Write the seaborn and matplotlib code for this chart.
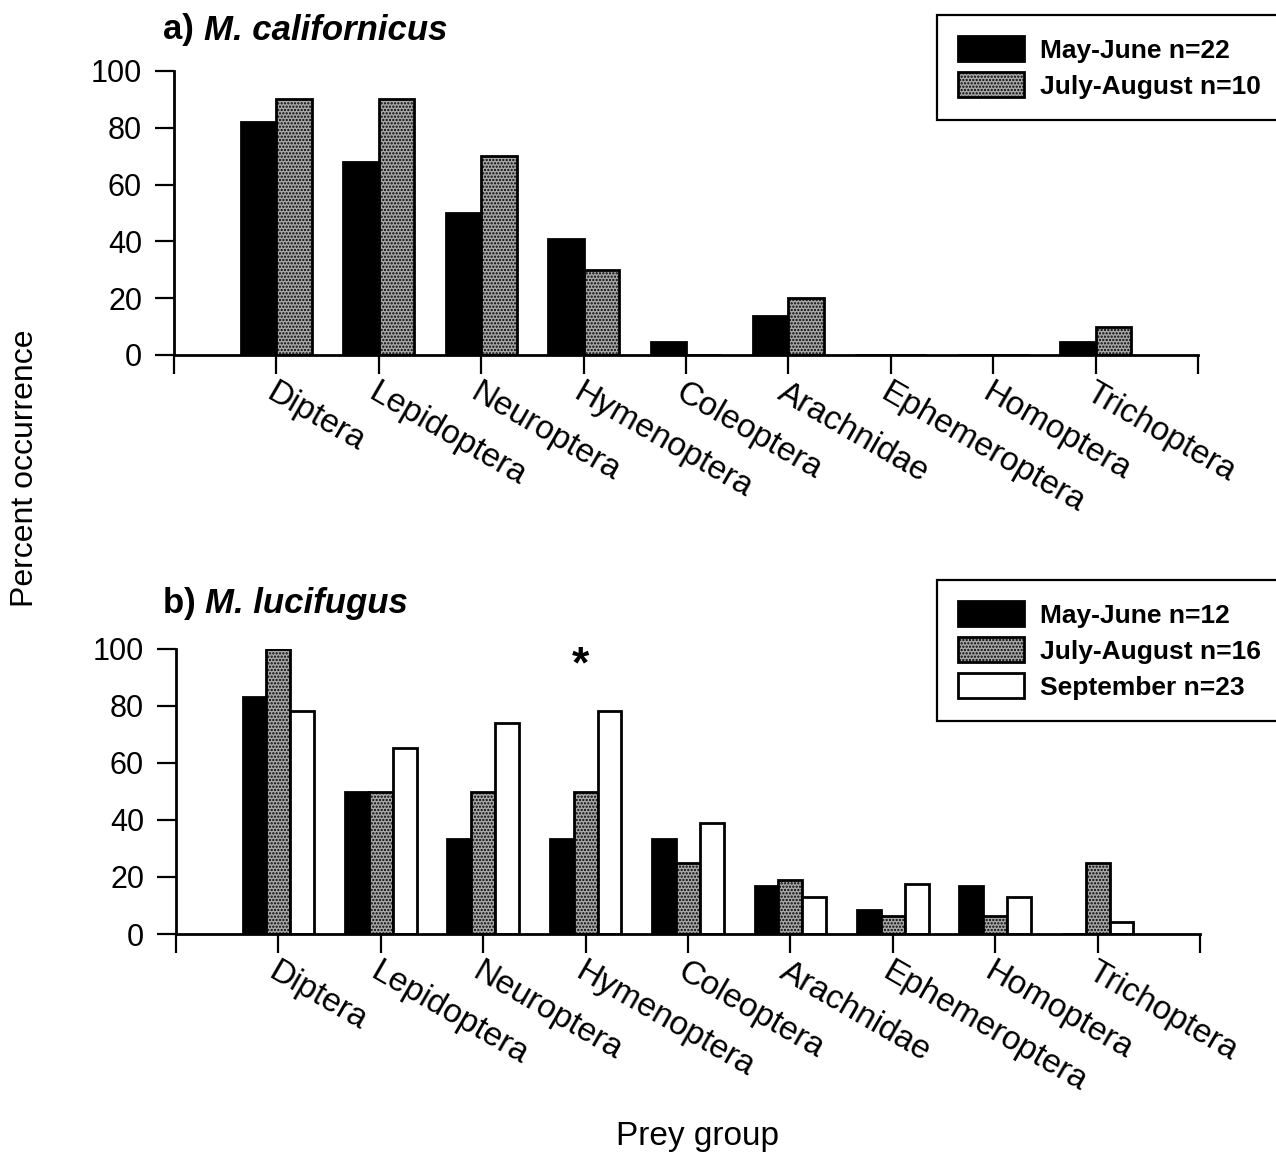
import matplotlib
matplotlib.use("Agg")
import matplotlib.pyplot as plt
import matplotlib.transforms as mtrans
from matplotlib.patches import Patch
import seaborn as sns
import pandas as pd

# ---------------- data ----------------
categories = ["Diptera", "Lepidoptera", "Neuroptera", "Hymenoptera", "Coleoptera",
              "Arachnidae", "Ephemeroptera", "Homoptera", "Trichoptera"]

# a) M. californicus
cal_may_june = [82, 68, 50, 41, 4.5, 13.6, 0, 0, 4.5]
cal_july_aug = [90, 90, 70, 30, 0, 20, 0, 0, 10]
cal_labels = ["May-June n=22", "July-August n=10"]

# b) M. lucifugus
luc_may_june = [83.3, 50, 33.3, 33.3, 33.3, 16.7, 8.3, 16.7, 0]
luc_july_aug = [100, 50, 50, 50, 25, 18.8, 6.3, 6.3, 25]
luc_september = [78.3, 65.2, 73.9, 78.3, 39.1, 13.0, 17.4, 13.0, 4.3]
luc_labels = ["May-June n=12", "July-August n=16", "September n=23"]

yticks = [0, 20, 40, 60, 80, 100]

# ---------------- style ----------------
sns.set_theme(style="white")
plt.rcParams["font.family"] = ["Liberation Sans", "DejaVu Sans"]
plt.rcParams["hatch.linewidth"] = 1.1
for k in ["text.color", "axes.labelcolor", "xtick.color", "ytick.color"]:
    plt.rcParams[k] = "black"

BLACK = "#000000"
STIP = "#a9a9a9"
WHITE = "#ffffff"
FS_TICK = 22
FS_CAT = 24

fig = plt.figure(figsize=(12.76, 11.57), dpi=100)
W, H = 1276, 1157


def axes_px(left, right, top, bottom):
    return fig.add_axes([left / W, 1 - bottom / H, (right - left) / W, (bottom - top) / H])


ax1 = axes_px(174, 1198, 71, 355)
ax2 = axes_px(176, 1200, 649, 934)


def make_df(series, labels):
    rows = []
    for vals, lab in zip(series, labels):
        for c, v in zip(categories, vals):
            rows.append({"group": c, "pct": v, "period": lab})
    return pd.DataFrame(rows)


def draw(ax, series, labels, colors, width):
    df = make_df(series, labels)
    sns.barplot(data=df, x="group", y="pct", hue="period", order=categories,
                hue_order=labels, palette=colors, width=width, edgecolor="black",
                linewidth=2, saturation=1, ax=ax, legend=False, errorbar=None)
    for p in ax.patches:
        fc = p.get_facecolor()
        if abs(fc[0] - int(STIP[1:3], 16) / 255) < 0.01:
            p.set_hatch(".....")
    ax.set_xlim(-1, 9)
    ax.set_ylim(0, 100)
    ax.set_xticks(range(-1, 10))
    ax.set_xticklabels([""] + categories + [""], rotation=-30, ha="left", va="top",
                       rotation_mode="anchor", fontsize=FS_CAT)
    off = mtrans.ScaledTranslation(17 / 100, 0, fig.dpi_scale_trans)
    for t in ax.get_xticklabels():
        t.set_transform(t.get_transform() + off)
    ax.set_yticks(yticks)
    ax.set_yticklabels([str(v) for v in yticks], fontsize=FS_TICK)
    ax.set_xlabel("")
    ax.set_ylabel("")
    for s in ["top", "right"]:
        ax.spines[s].set_visible(False)
    for s in ["left", "bottom"]:
        ax.spines[s].set_linewidth(2)
        ax.spines[s].set_color("black")
    ax.tick_params(axis="both", direction="out", length=14, width=1.6, colors="black",
                   left=True, bottom=True)
    ax.tick_params(axis="y", pad=9)
    ax.tick_params(axis="x", pad=2)
    ax.set_facecolor("white")


draw(ax1, [cal_may_june, cal_july_aug], cal_labels, [BLACK, STIP], 0.69)
draw(ax2, [luc_may_june, luc_july_aug, luc_september], luc_labels, [BLACK, STIP, WHITE], 0.70)


def legend(ax, labels, colors, y_top):
    handles = []
    for lab, c in zip(labels, colors):
        handles.append(Patch(facecolor=c, edgecolor="black", linewidth=2,
                             hatch="....." if c == STIP else None, label=lab))
    leg = ax.legend(handles=handles, loc="upper left",
                    bbox_to_anchor=(937 / W, 1 - y_top / H), bbox_transform=fig.transFigure,
                    prop={"weight": "bold", "size": 19}, frameon=True, fancybox=False,
                    edgecolor="black", framealpha=1, handlelength=2.5, handleheight=1.1,
                    labelspacing=0.35, handletextpad=0.6, borderpad=0.8, borderaxespad=0)
    leg.get_frame().set_linewidth(1.6)
    return leg


legend(ax1, cal_labels, [BLACK, STIP], 15)
legend(ax2, luc_labels, [BLACK, STIP, WHITE], 580)

# significance marker
ax2.text(2.95, 94, "*", ha="center", va="center", fontsize=32, fontweight="bold")

# panel titles
for ytxt, pre, sp in [(30, "a) ", "M. californicus"), (604, "b) ", "M. lucifugus")]:
    t1 = fig.text(163 / W, 1 - ytxt / H, pre, ha="left", va="center", fontsize=25,
                  fontweight="bold")
    plt.annotate(sp, xy=(1, 0.5), xycoords=t1, ha="left", va="center",
                 fontsize=25, fontweight="bold", fontstyle="italic",
                 annotation_clip=False)

fig.text(25 / W, 1 - 468 / H, "Percent occurrence", rotation=90, ha="center",
         va="center", fontsize=23)
fig.text(697 / W, 1 - 1137 / H, "Prey group", ha="center", va="center", fontsize=24)

fig.savefig("out.png", dpi=100, facecolor="white")
